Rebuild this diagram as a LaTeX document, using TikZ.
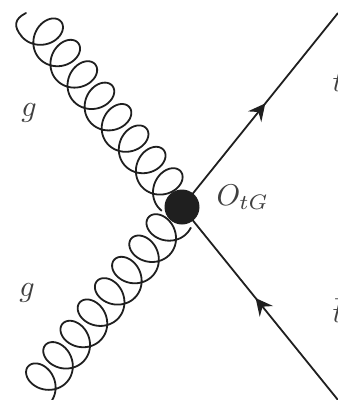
\documentclass[tikz,border=0pt]{standalone}
\usetikzlibrary{arrows.meta,decorations.markings}
\tikzset{
  line/.style={line width=1.8pt,color=black!88},
  blob/.style={circle,fill=black!88,draw=none,minimum size=35pt,inner sep=0pt},
  lab/.style={scale=3,color=black!75,inner sep=0pt},
  fermion/.style={line,postaction={decorate},decoration={markings,
     mark=at position #1 with {\arrow{Stealth[length=17pt,width=17pt,inset=6pt]}}}}
}
% \gluonline{cx}{cy}{dx}{dy}{nx}{ny}{start}{end}
\newcommand\gluonline[8]{%
  \draw[line,line join=round,line cap=round] plot[domain=#7:#8,samples=900,smooth,variable=\tt]
   ({#1+(#3)*(4.36*(\tt-3.1416)+17*sin(\tt r))+(#5)*(-20*cos(\tt r))},
    {#2+(#4)*(4.36*(\tt-3.1416)+17*sin(\tt r))+(#6)*(-20*cos(\tt r))});}
\begin{document}
\begin{tikzpicture}[x=1pt,y=-1pt]
\useasboundingbox (0,0) rectangle (338,400);
\clip (0,0) rectangle (338,400);
\fill[white] (0,0) rectangle (338,400);
\coordinate (tout) at (338,13);
\coordinate (tbarout) at (338,400);
\coordinate (v) at (182,207);
\coordinate (gstart) at (26,13);
\coordinate (gjoin) at (21.4,36);
\draw[fermion=.534] (v) -- (tout);
\draw[fermion=.528] (tbarout) -- (v);
\draw[line,line cap=round] (gstart) .. controls (14,19) and (13.5,26.5) .. (gjoin);
\gluonline{45.5}{34.2}{.624}{.781}{.781}{-.624}{0}{50.5}
\gluonline{43.5}{379.2}{.628}{-.778}{-.778}{-.628}{-.3}{50.5}
\node[blob] (vertex) at (v) {};
\node[lab] (g1) at (29,113) {$g$};
\node[lab] (g2) at (27,293) {$g$};
\node[lab,anchor=west] (op) at (216,197) {$O_{tG}$};
\node[lab,anchor=west] (t) at (332,82) {$t$};
\node[lab,anchor=west] (tb) at (332,311) {$\bar t$};
\end{tikzpicture}
\end{document}
